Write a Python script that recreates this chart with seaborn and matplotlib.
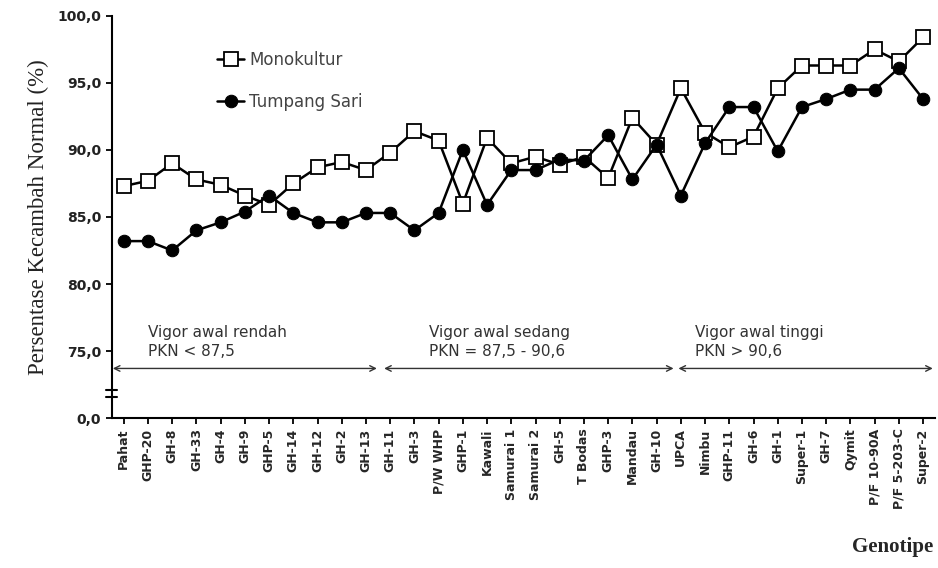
import numpy as np
import pandas as pd
import seaborn as sns
import matplotlib.pyplot as plt

# data
genotipe = ['Pahat', 'GHP-20', 'GH-8', 'GH-33', 'GH-4', 'GH-9', 'GHP-5', 'GH-14',
            'GH-12', 'GH-2', 'GH-13', 'GH-11', 'GH-3', 'P/W WHP', 'GHP-1', 'Kawali',
            'Samurai 1', 'Samurai 2', 'GH-5', 'T Bodas', 'GHP-3', 'Mandau', 'GH-10',
            'UPCA', 'Nimbu', 'GHP-11', 'GH-6', 'GH-1', 'Super-1', 'GH-7', 'Qymit',
            'P/F 10-90A', 'P/F 5-203-C', 'Super-2']
monokultur = [87.3, 87.7, 89.0, 87.8, 87.4, 86.6, 85.9, 87.5, 88.7, 89.1, 88.5, 89.8,
              91.4, 90.7, 86.0, 90.9, 89.0, 89.5, 88.9, 89.5, 87.9, 92.4, 90.4, 94.6,
              91.3, 90.2, 91.0, 94.6, 96.3, 96.3, 96.3, 97.5, 96.6, 98.4]
tumpang_sari = [83.2, 83.2, 82.5, 84.0, 84.6, 85.4, 86.6, 85.3, 84.6, 84.6, 85.3, 85.3,
                84.0, 85.3, 90.0, 85.9, 88.5, 88.5, 89.3, 89.2, 91.1, 87.8, 90.4, 86.6,
                90.5, 93.2, 93.2, 89.9, 93.2, 93.8, 94.5, 94.5, 96.1, 93.8]
ytick_vals = [70, 75, 80, 85, 90, 95, 100]
ytick_labels = ['0,0', '75,0', '80,0', '85,0', '90,0', '95,0', '100,0']
group_labels = ['Vigor awal rendah\nPKN < 87,5',
                'Vigor awal sedang\nPKN = 87,5 - 90,6',
                'Vigor awal tinggi\nPKN > 90,6']

df = pd.DataFrame({'pos': np.arange(len(genotipe)),
                   'Monokultur': monokultur,
                   'Tumpang Sari': tumpang_sari})

sns.set_style('ticks')
fig = plt.figure(figsize=(9.38, 5.68), dpi=100)
ax = fig.add_axes([0.119, 0.264, 0.878, 0.708])

sns.lineplot(data=df, x='pos', y='Monokultur', ax=ax, color='black', lw=1.8,
             marker='s', markersize=10, mfc='white', mec='black', mew=1.3,
             label='Monokultur')
sns.lineplot(data=df, x='pos', y='Tumpang Sari', ax=ax, color='black', lw=1.8,
             marker='o', markersize=9, mfc='black', mec='black',
             label='Tumpang Sari')

ax.set_xlim(-0.5, 33.5)
ax.set_ylim(70, 100)
ax.set_yticks(ytick_vals)
ax.set_yticklabels(ytick_labels, fontsize=10, fontweight='bold', color='#222222')
ax.set_xticks(df['pos'])
ax.set_xticklabels(genotipe, rotation=90, fontsize=9, fontweight='bold')
ax.tick_params(axis='both', length=4, width=1.3, color='black')
for s in ['top', 'right']:
    ax.spines[s].set_visible(False)
for s in ['left', 'bottom']:
    ax.spines[s].set_linewidth(1.5)
    ax.spines[s].set_color('black')

ax.set_xlabel('')
ax.set_ylabel('Persentase Kecambah Normal (%)', family='Liberation Serif',
              fontsize=16.5, color='#222222', labelpad=6)
fig.text(0.995, 0.02, 'Genotipe', family='Liberation Serif', fontsize=15,
         fontweight='bold', ha='right', va='bottom')

# axis break mark
tr = ax.get_yaxis_transform()
for yb in [72.1, 71.6]:
    ax.plot([-0.007, 0.007], [yb, yb], color='black', lw=1.5,
            transform=tr, clip_on=False)

# vigor groups: arrow spans and text starts
spans = [(-0.45, 10.45), (10.75, 22.7), (22.9, 33.4)]
text_x = [1.0, 12.6, 23.6]
for txt, (x0, x1), tx in zip(group_labels, spans, text_x):
    ax.annotate('', xy=(x0, 73.7), xytext=(x1, 73.7),
                arrowprops=dict(arrowstyle='<->', color='#333333', lw=1.0,
                                shrinkA=0, shrinkB=0),
                annotation_clip=False)
    ax.text(tx, 74.4, txt, fontsize=11, color='#333333',
            ha='left', va='bottom', linespacing=1.3)

ax.legend(loc='upper left', bbox_to_anchor=(0.11, 0.95), frameon=False,
          fontsize=12, labelspacing=1.45, handlelength=1.6, handletextpad=0.3,
          labelcolor='#444444')

fig.savefig('out.png', dpi=100)
